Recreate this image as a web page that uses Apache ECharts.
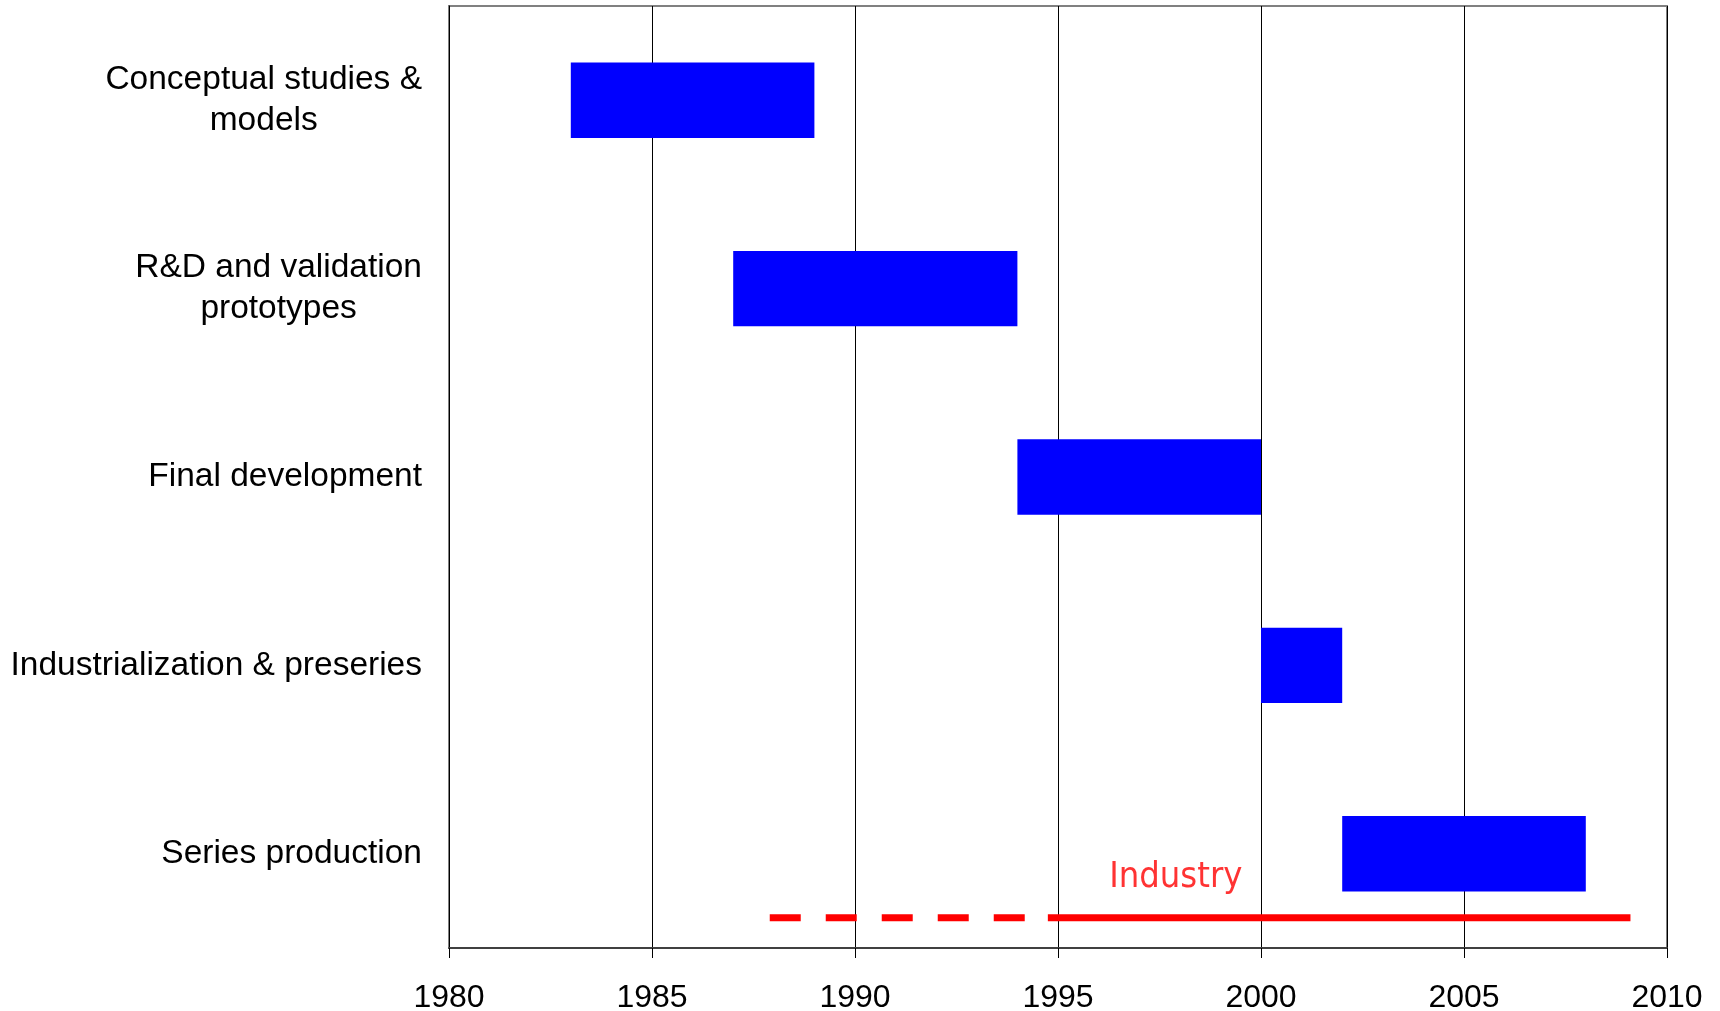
<!DOCTYPE html>
<html>
<head>
<meta charset="utf-8">
<script src="https://cdn.jsdelivr.net/npm/echarts@6/dist/echarts.min.js"></script>
<style>html,body{margin:0;padding:0;background:#fff;}#chart{width:1720px;height:1011px;}</style>
</head>
<body>
<div id="chart"></div>
<script>
const categories = ['Conceptual studies &\nmodels', 'R&D and validation\nprototypes', 'Final development', 'Industrialization & preseries', 'Series production'];
const startYears = [1983, 1987, 1994, 2000, 2002];
const endYears = [1989, 1994, 2000, 2002, 2008];
const xTicks = [1980, 1985, 1990, 1995, 2000, 2005, 2010];
const industryDashed = [1987.9, 1994.75];
const industrySolid = [1994.75, 2009.1];
const industryLevel = 0.16;
const industryText = 'Industry';
const industryTextYear = 1997.9;
const industryTextLevel = 0.375;

const chart = echarts.init(document.getElementById('chart'), null, {renderer: 'canvas'});
const durations = endYears.map((e, i) => e - startYears[i]);
const font = '"Liberation Sans", Arial, sans-serif';

chart.setOption({
  animation: false,
  backgroundColor: '#fff',
  grid: {left: 449, right: 53, top: 6, bottom: 63, containLabel: false, outerBoundsMode: 'none',
    show: true, borderColor: '#808080', borderWidth: 2, backgroundColor: '#fff'},
  xAxis: {
    type: 'value', min: xTicks[0], max: xTicks[xTicks.length - 1], interval: 5,
    axisLine: {show: true, lineStyle: {color: '#404040', width: 2}},
    axisTick: {show: true, length: 10, lineStyle: {color: '#000', width: 1}},
    splitLine: {show: true, lineStyle: {color: '#000', width: 1}},
    axisLabel: {fontFamily: font, fontSize: 32, color: '#000', margin: 34, showMinLabel: true, showMaxLabel: true,
      formatter: v => String(v)}
  },
  yAxis: [{
    type: 'category', data: categories, inverse: true,
    axisLine: {show: true, lineStyle: {color: '#000', width: 1}},
    axisTick: {show: false},
    splitLine: {show: false},
    axisLabel: {
      margin: 27, align: 'right',
      formatter: v => v.split('\n').map(l => '{c|' + l + '}').join('\n'),
      rich: {c: {align: 'center', fontFamily: font, fontSize: 33.5, color: '#000', lineHeight: 41}}
    }
  }, {
    type: 'value', min: 0, max: categories.length, show: false
  }],
  series: [
    {type: 'bar', stack: 'g', yAxisIndex: 0, barWidth: '40%', data: startYears, itemStyle: {color: 'rgba(0,0,0,0)'}, silent: true},
    {type: 'bar', stack: 'g', yAxisIndex: 0, barWidth: '40%', data: durations, itemStyle: {color: '#0000ff'}},
    {type: 'line', yAxisIndex: 1, symbol: 'none', data: industryDashed.map(x => [x, industryLevel]),
      lineStyle: {color: '#ff0000', width: 7, type: [31, 25], cap: 'butt'}},
    {type: 'line', yAxisIndex: 1, symbol: 'none', data: industrySolid.map(x => [x, industryLevel]),
      lineStyle: {color: '#ff0000', width: 7, type: 'solid', cap: 'butt'}},
    {type: 'scatter', yAxisIndex: 1, symbolSize: 0, data: [[industryTextYear, industryTextLevel]],
      label: {show: true, position: 'inside', formatter: industryText, fontFamily: '"DejaVu Sans Condensed", "DejaVu Sans", sans-serif', fontSize: 36, color: '#ff0000'}}
  ]
});
</script>
</body>
</html>
